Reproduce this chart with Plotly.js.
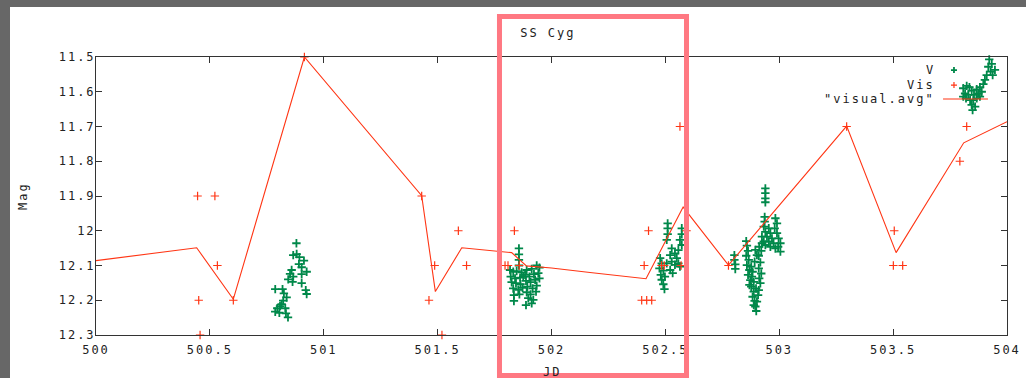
<!DOCTYPE html>
<html>
<head>
<meta charset="utf-8">
<script src="https://cdn.plot.ly/plotly-3.0.1.min.js"></script>
<style>
  html, body { margin: 0; padding: 0; background: #676767; width: 1026px; height: 378px; overflow: hidden; }
  #plot { position: absolute; left: 10px; top: 7px; width: 1016px; height: 371px; background: #fff; }
  svg text { letter-spacing: 2px; }
</style>
</head>
<body>
<div id="plot"></div>
<script>
// ---- data ----
const xTickVals = [500, 500.5, 501, 501.5, 502, 502.5, 503, 503.5, 504];
const xTickText = ['500', '500.5', '501', '501.5', '502', '502.5', '503', '503.5', '504'];
const yTickVals = [11.5, 11.6, 11.7, 11.8, 11.9, 12.0, 12.1, 12.2, 12.3];
const yTickText = ['11.5', '11.6', '11.7', '11.8', '11.9', '12', '12.1', '12.2', '12.3'];

// V band observations (green)
const vX = [
  500.880, 500.866, 500.881, 500.893, 500.913, 500.891, 500.903, 500.859, 500.852, 500.866,
  500.844, 500.863, 500.903, 500.925, 500.903, 500.921, 500.925, 500.787, 500.819, 500.825,
  500.837, 500.822, 500.808, 500.796, 500.787, 500.805, 500.831, 500.834, 500.843, 500.815,
  501.857, 501.857, 501.857, 501.857, 501.818, 501.832, 501.847, 501.869, 501.821, 501.840,
  501.862, 501.876, 501.825, 501.844, 501.864, 501.832, 501.854, 501.873, 501.835, 501.859,
  501.835, 501.891, 501.913, 501.935, 501.947, 501.884, 501.903, 501.923, 501.942, 501.888,
  501.908, 501.928, 501.947, 501.894, 501.917, 501.935, 501.891, 501.908, 501.932, 501.898,
  501.920, 501.888, 501.913,
  502.510, 502.510, 502.510, 502.506, 502.572, 502.572, 502.564, 502.572, 502.557, 502.528,
  502.542, 502.521, 502.550, 502.528, 502.506, 502.542, 502.521, 502.477, 502.484, 502.474,
  502.491, 502.480, 502.498, 502.484, 502.491, 502.496, 502.532, 502.557, 502.564,
  502.939, 502.939, 502.939, 502.939, 502.803, 502.803, 502.807, 502.807,
  502.855, 502.858, 502.863, 502.855, 502.866, 502.858, 502.869, 502.863, 502.873, 502.869,
  502.877, 502.883, 502.880, 502.888, 502.877, 502.888, 502.883, 502.892, 502.888, 502.899,
  502.895, 502.902, 502.907, 502.898, 502.910, 502.917, 502.912, 502.921, 502.910, 502.917,
  502.910, 502.921, 502.912, 502.924, 502.895, 502.902, 502.892,
  502.936, 502.936, 502.932, 502.939, 502.946, 502.954, 502.961, 502.968, 502.983, 502.990,
  502.980, 502.990, 502.997, 503.005, 502.995, 503.005, 502.975, 502.954, 502.939, 502.961,
  502.983, 502.932, 502.924,
  503.922, 503.933, 503.918, 503.947, 503.928, 503.911, 503.937, 503.903, 503.896, 503.881,
  503.889, 503.874, 503.867, 503.855, 503.845, 503.835, 503.823, 503.808, 503.816, 503.830,
  503.820, 503.838, 503.852, 503.867, 503.845, 503.860, 503.849, 503.881, 503.808
];
const vY = [
  12.036, 12.070, 12.067, 12.076, 12.086, 12.096, 12.105, 12.113, 12.124, 12.132,
  12.140, 12.147, 12.125, 12.118, 12.151, 12.171, 12.182, 12.168, 12.168, 12.180,
  12.192, 12.201, 12.217, 12.223, 12.233, 12.236, 12.223, 12.238, 12.249, 12.211,
  12.051, 12.068, 12.084, 12.100, 12.113, 12.118, 12.116, 12.120, 12.132, 12.137,
  12.135, 12.132, 12.148, 12.151, 12.154, 12.166, 12.170, 12.164, 12.185, 12.183,
  12.202, 12.113, 12.110, 12.100, 12.106, 12.127, 12.132, 12.125, 12.122, 12.144,
  12.148, 12.141, 12.137, 12.161, 12.166, 12.158, 12.177, 12.183, 12.175, 12.194,
  12.199, 12.214, 12.209,
  11.979, 11.993, 12.010, 12.026, 11.993, 12.010, 12.026, 12.041, 12.056, 12.051,
  12.065, 12.070, 12.079, 12.089, 12.094, 12.098, 12.113, 12.079, 12.094, 12.108,
  12.115, 12.127, 12.132, 12.141, 12.154, 12.168, 12.122, 12.094, 12.103,
  11.878, 11.892, 11.907, 11.918, 12.070, 12.084, 12.097, 12.110,
  12.030, 12.043, 12.058, 12.072, 12.084, 12.099, 12.113, 12.127, 12.142, 12.156,
  12.103, 12.118, 12.132, 12.147, 12.161, 12.175, 12.190, 12.202, 12.214, 12.231,
  12.218, 12.204, 12.185, 12.166, 12.171, 12.151, 12.137, 12.123, 12.108, 12.091,
  12.072, 12.058, 12.046, 12.036, 12.055, 12.070, 12.089,
  11.960, 11.974, 11.988, 12.003, 12.017, 11.993, 12.007, 12.022, 11.964, 11.979,
  11.993, 12.007, 12.022, 12.036, 12.046, 12.060, 12.036, 12.031, 12.041, 12.046,
  12.051, 12.031, 12.017,
  11.507, 11.520, 11.528, 11.537, 11.542, 11.552, 11.552, 11.566, 11.578, 11.587,
  11.600, 11.605, 11.593, 11.609, 11.597, 11.587, 11.583, 11.590, 11.605, 11.609,
  11.619, 11.624, 11.624, 11.619, 11.638, 11.643, 11.653, 11.614, 11.614
];

// Visual estimates (red +)
const visX = [500.446, 500.451, 500.457, 500.522, 500.533, 500.603, 500.915, 501.430, 501.462, 501.487,
  501.519, 501.591, 501.627, 501.796, 501.809, 501.837, 501.858, 502.396, 502.407, 502.418,
  502.426, 502.440, 502.483, 502.495, 502.564, 502.569, 502.593, 502.777, 503.296, 503.501,
  503.505, 503.542, 503.793, 503.823];
const visY = [11.9, 12.2, 12.3, 11.9, 12.1, 12.2, 11.5, 11.9, 12.2, 12.1,
  12.3, 12.0, 12.1, 12.1, 12.1, 12.0, 12.1, 12.2, 12.1, 12.2,
  12.0, 12.2, 12.1, 12.1, 11.7, 12.1, 12.0, 12.1, 11.7, 12.1,
  12.0, 12.1, 11.8, 11.7];

// "visual.avg" running average (red line)
const avgX = [500.0, 500.442, 500.603, 500.915, 501.430, 501.490, 501.606, 501.825, 501.890, 502.000,
  502.169, 502.300, 502.415, 502.578, 502.777, 503.296, 503.513, 503.810, 504.0];
const avgY = [12.086, 12.049, 12.197, 11.500, 11.899, 12.175, 12.049, 12.063, 12.101, 12.107,
  12.120, 12.129, 12.138, 11.932, 12.099, 11.699, 12.063, 11.747, 11.686];

const seriesNames = ['V', 'Vis', '"visual.avg"'];
const green = '#00884a';
const red = '#ff3514';
const mono = 'DejaVu Sans Mono, Liberation Mono, monospace';
const txtFont = {family: mono, size: 12, color: '#222'};

const traces = [
  {x: vX, y: vY, name: seriesNames[0], type: 'scatter', mode: 'markers', cliponaxis: false,
   marker: {symbol: 'cross-thin', size: 6, color: green, line: {color: green, width: 1.8}}},
  {x: visX, y: visY, name: seriesNames[1], type: 'scatter', mode: 'markers', cliponaxis: false,
   marker: {symbol: 'cross-thin', size: 6, color: red, line: {color: red, width: 1.2}}},
  {x: avgX, y: avgY, name: seriesNames[2], type: 'scatter', mode: 'lines',
   line: {color: red, width: 1.1}}
];

// legend layout (paper coords relative to plot area 96..1007 x 57..335 px)
const legTextX = 0.923;
const legRows = [0.953, 0.899, 0.849];
const legSampleX0 = 0.9298, legSampleX1 = 0.9791, legSampleMid = 0.9418;

const annotations = [
  {text: 'Mag', xref: 'paper', yref: 'paper', x: -0.0801, y: 0.5, textangle: -90,
   showarrow: false, font: txtFont, xanchor: 'center', yanchor: 'middle'},
  {text: 'JD', xref: 'paper', yref: 'paper', x: 0.5, y: -0.133,
   showarrow: false, font: txtFont, xanchor: 'center', yanchor: 'middle'}
];
seriesNames.forEach((n, i) => annotations.push({
  text: n, xref: 'paper', yref: 'paper', x: legTextX, y: legRows[i], showarrow: false,
  font: txtFont, xanchor: 'right', yanchor: 'middle'
}));

const shapes = [
  {type: 'path', xref: 'paper', yref: 'paper', xsizemode: 'pixel', ysizemode: 'pixel',
   xanchor: legSampleMid, yanchor: legRows[0], path: 'M-3,0H3M0,-3V3',
   line: {color: green, width: 1.8}},
  {type: 'path', xref: 'paper', yref: 'paper', xsizemode: 'pixel', ysizemode: 'pixel',
   xanchor: legSampleMid, yanchor: legRows[1], path: 'M-3,0H3M0,-3V3',
   line: {color: red, width: 1.2}},
  {type: 'line', xref: 'paper', yref: 'paper', x0: legSampleX0, x1: legSampleX1,
   y0: legRows[2], y1: legRows[2], line: {color: red, width: 1.2}},
  {type: 'rect', xref: 'paper', yref: 'paper', x0: 0.4429, x1: 0.6482, y0: -0.1457, y1: 1.1457,
   line: {color: '#ff7882', width: 5}, fillcolor: 'rgba(0,0,0,0)', layer: 'above'}
];

const axisCommon = {
  showgrid: false, zeroline: false, showline: true, linecolor: '#333', linewidth: 1,
  mirror: 'ticks', ticks: 'inside', ticklen: 6, tickwidth: 1, tickcolor: '#333',
  tickfont: txtFont, tickmode: 'array'
};

const layout = {
  width: 1016, height: 371,
  margin: {l: 86, r: 19, t: 50, b: 43, pad: 0},
  paper_bgcolor: '#fff', plot_bgcolor: '#fff',
  showlegend: false,
  title: {text: 'SS Cyg', font: txtFont, x: 0.496, xref: 'paper', xanchor: 'center',
          y: 0.93, yref: 'container', yanchor: 'middle'},
  xaxis: Object.assign({}, axisCommon, {range: [500, 504], tickvals: xTickVals, ticktext: xTickText,
          ticklabelstandoff: 4}),
  yaxis: Object.assign({}, axisCommon, {range: [12.3, 11.5], tickvals: yTickVals, ticktext: yTickText,
          ticklabelstandoff: -3}),
  annotations: annotations,
  shapes: shapes
};

Plotly.newPlot('plot', traces, layout, {displayModeBar: false, staticPlot: true});
</script>
</body>
</html>
